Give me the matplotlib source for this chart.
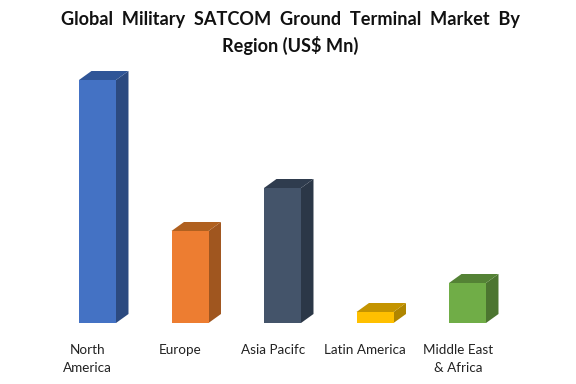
import matplotlib.pyplot as plt
from matplotlib.patches import Polygon

regions = ["North\nAmerica", "Europe", "Asia Pacifc", "Latin America", "Middle East\n& Africa"]
values = [243, 92, 135, 11, 40]
front_colors = ["#4472C4", "#ED7D31", "#44546A", "#FFC000", "#70AD47"]
side_colors = ["#2C4A80", "#A0561F", "#2B3747", "#B08600", "#4C7530"]
top_colors = ["#2F5597", "#B0601F", "#2F3C4E", "#C49400", "#548235"]

BAR_WIDTH = 0.4
DEPTH_X = 0.135
DEPTH_Y = 9

plt.rcParams["font.family"] = ["Lato", "DejaVu Sans"]

fig = plt.figure(figsize=(5.76, 3.84), dpi=100)
ax = fig.add_axes([51.25 / 576, (384 - 323) / 384, 462.5 / 576, 263 / 384])
ax.set_xlim(-0.5, 4.5)
ax.set_ylim(0, 263)
ax.axis("off")

for i, value in enumerate(values):
    left = i - BAR_WIDTH / 2
    right = i + BAR_WIDTH / 2
    ax.bar(i, value, width=BAR_WIDTH, color=front_colors[i], zorder=3)
    # side face
    ax.add_patch(Polygon([(right, 0), (right + DEPTH_X, DEPTH_Y), (right + DEPTH_X, value + DEPTH_Y), (right, value)],
                         closed=True, facecolor=side_colors[i], edgecolor="none", zorder=2))
    # top face
    ax.add_patch(Polygon([(left, value), (left + DEPTH_X, value + DEPTH_Y), (right + DEPTH_X, value + DEPTH_Y), (right, value)],
                         closed=True, facecolor=top_colors[i], edgecolor="none", zorder=2))

for i, label in enumerate(regions):
    # labels sit a little left of their bars in the original
    ax.annotate(label, (i, 0), xytext=(-7, -15), textcoords="offset points", ha="center", va="top",
                fontsize=9.7, color="#222222", linespacing=1.6, annotation_clip=False)

fig.text(290 / 576, 1 - 19 / 384, "Global  Military  SATCOM  Ground  Terminal  Market  By", ha="center", va="center",
         fontsize=13.1, fontweight="bold", color="#111111")
fig.text(290 / 576, 1 - 45 / 384, "Region (US$ Mn)", ha="center", va="center",
         fontsize=13.1, fontweight="bold", color="#111111")

plt.savefig("out.png", dpi=100)
